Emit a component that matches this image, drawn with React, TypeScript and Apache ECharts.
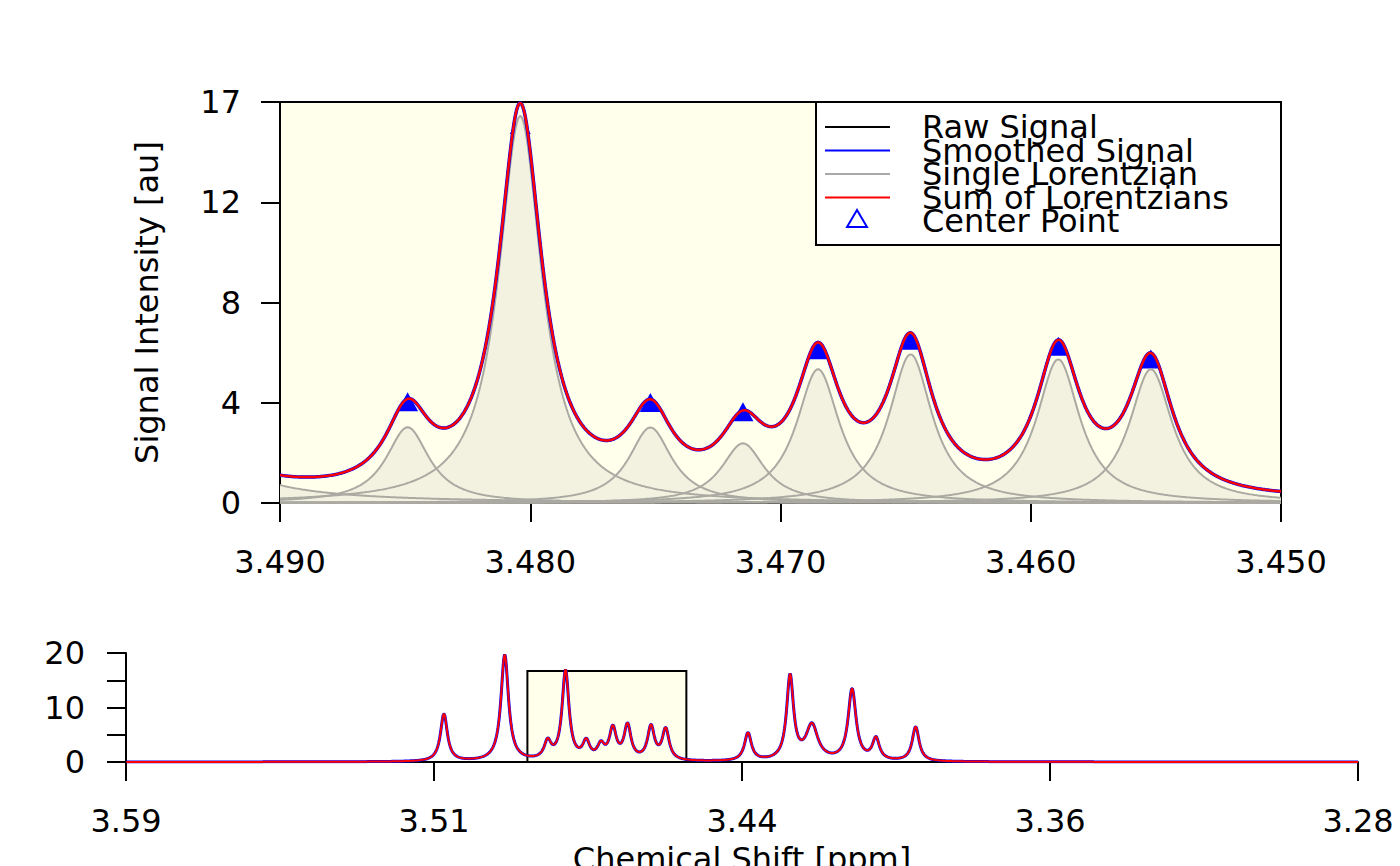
import React, { useEffect, useRef } from "react";
import * as echarts from "echarts";

// fitted Lorentzian peaks: centre [ppm], height [au], half width [ppm]
const peakShift = [3.511, 3.4957, 3.4849, 3.4804, 3.4752, 3.4715, 3.4685, 3.4648, 3.4589, 3.4552, 3.4345, 3.4239, 3.4184, 3.4083, 3.4023, 3.3923];
const peakHeight = [8.7, 19.5, 3.21, 16.4, 3.2, 2.53, 5.67, 6.3, 6.09, 5.67, 5.1, 15.4, 6.4, 13.1, 4.0, 6.3];
const peakWidth = [0.00105, 0.00115, 0.00105, 0.00105, 0.00105, 0.00105, 0.00105, 0.00105, 0.00105, 0.00105, 0.00105, 0.00105, 0.0018, 0.0012, 0.00105, 0.00105];

// centre points marked in the zoomed panel
const centerShift = [3.4849, 3.4804, 3.4752, 3.4715, 3.4685, 3.4648, 3.4589, 3.4552];
const centerIntensity = [4.29, 16.05, 4.26, 3.87, 6.5, 6.9, 6.65, 6.1];

// axes
const zoomRange = [3.45, 3.49];
const zoomTicks = [3.45, 3.46, 3.47, 3.48, 3.49];
const intensityTicks = [0, 4.25, 8.5, 12.75, 17];
const intensityLabels = ["0", "4", "8", "12", "17"];
const overviewRange = [3.281, 3.591];
const overviewTicks = [3.281, 3.3585, 3.436, 3.5135, 3.591];
const overviewLabels = ["3.28", "3.36", "3.44", "3.51", "3.59"];
const overviewYTicks = [0, 5, 10, 15, 20];
const overviewYLabels = [0, 10, 20];

// zoom window drawn in the overview
const zoomWindow = [3.49, 3.45];
const zoomWindowTop = 16.7;

const FONT = "DejaVu Sans";
const FS = 32;

const lorentz = (x: number, i: number) => {
  const d = (x - peakShift[i]) / peakWidth[i];
  return peakHeight[i] / (1 + d * d);
};

const sample = (from: number, to: number, n: number, f: (x: number) => number) => {
  const out: number[][] = [];
  for (let k = 0; k <= n; k++) {
    const x = from + ((to - from) * k) / n;
    out.push([x, f(x)]);
  }
  return out;
};

const sumAt = (x: number) => peakShift.reduce((s, _, i) => s + lorentz(x, i), 0);

const labelFor = (ticks: number[], labels: (string | number)[]) => (v: number) => {
  const i = ticks.findIndex((t) => Math.abs(t - v) < 1e-6);
  return i < 0 ? "" : String(labels[i]);
};

const App: React.FC = () => {
  const chartRef = useRef<HTMLDivElement>(null);

  useEffect(() => {
    if (!chartRef.current) return;
    const chart = echarts.init(chartRef.current, undefined, { renderer: "svg" });

    const zoomSum = sample(zoomRange[0], zoomRange[1], 800, sumAt);
    const overviewSum = sample(overviewRange[0], overviewRange[1], 3100, sumAt);

    // only peaks close enough to the window show up as single curves
    const shown = peakShift.map((_, i) => i).filter((i) => Math.abs(peakShift[i] - 3.47) < 0.03);
    const singles = shown.map((i) => sample(zoomRange[0], zoomRange[1], 800, (x) => lorentz(x, i)));

    const axisLine = { show: true, lineStyle: { color: "#000", width: 2 } };
    const axisTick = (values: number[]) => ({
      show: true,
      length: 19,
      customValues: values,
      lineStyle: { color: "#000", width: 2 },
    });
    const label = { color: "#000", fontSize: FS, fontFamily: FONT };

    const series: any[] = [
      {
        name: "Center Point",
        type: "scatter",
        xAxisIndex: 0,
        yAxisIndex: 0,
        symbol: "triangle",
        symbolSize: [21, 19],
        itemStyle: { color: "#0000FF", opacity: 1 },
        data: centerShift.map((x, i) => [x, centerIntensity[i]]),
        z: 1,
        silent: true,
      },
      ...singles.map((d) => ({
        type: "line",
        xAxisIndex: 0,
        yAxisIndex: 0,
        data: d,
        showSymbol: false,
        symbol: "none",
        lineStyle: { width: 0, opacity: 0 },
        areaStyle: { color: "#F3F2E1", opacity: 1 },
        z: 2,
        silent: true,
      })),
      ...singles.map((d) => ({
        name: "Single Lorentzian",
        type: "line",
        xAxisIndex: 0,
        yAxisIndex: 0,
        data: d,
        showSymbol: false,
        symbol: "none",
        lineStyle: { width: 2, color: "#AAA9A2" },
        z: 3,
        silent: true,
      })),
      {
        name: "Raw Signal",
        type: "line",
        xAxisIndex: 0,
        yAxisIndex: 0,
        data: zoomSum,
        showSymbol: false,
        symbol: "none",
        lineStyle: { width: 2, color: "#000" },
        z: 4,
      },
      {
        name: "Smoothed Signal",
        type: "line",
        xAxisIndex: 0,
        yAxisIndex: 0,
        data: zoomSum,
        showSymbol: false,
        symbol: "none",
        lineStyle: { width: 3.5, color: "#0000FF" },
        z: 5,
      },
      {
        name: "Sum of Lorentzians",
        type: "line",
        xAxisIndex: 0,
        yAxisIndex: 0,
        data: zoomSum,
        showSymbol: false,
        symbol: "none",
        lineStyle: { width: 2.5, color: "#FF0000" },
        z: 6,
      },
      {
        type: "line",
        xAxisIndex: 1,
        yAxisIndex: 1,
        data: [],
        markArea: {
          silent: true,
          itemStyle: { color: "#FFFFEC", borderColor: "#000", borderWidth: 2 },
          data: [[{ xAxis: zoomWindow[0], yAxis: 0 }, { xAxis: zoomWindow[1], yAxis: zoomWindowTop }]],
        },
        z: 1,
      },
      {
        type: "line",
        xAxisIndex: 1,
        yAxisIndex: 1,
        data: overviewSum,
        showSymbol: false,
        symbol: "none",
        lineStyle: { width: 3, color: "#0000FF" },
        z: 2,
      },
      {
        type: "line",
        xAxisIndex: 1,
        yAxisIndex: 1,
        data: overviewSum,
        showSymbol: false,
        symbol: "none",
        lineStyle: { width: 2, color: "#FF0000" },
        z: 3,
      },
    ];

    // legend box, as drawn by R
    const legendRows = [
      { text: "Raw Signal", color: "#000" },
      { text: "Smoothed Signal", color: "#0000FF" },
      { text: "Single Lorentzian", color: "#A9A9A9" },
      { text: "Sum of Lorentzians", color: "#FF0000" },
      { text: "Center Point", color: "" },
    ];
    const rowY = (i: number) => 127 + i * 23.5;
    const legend: any[] = [
      {
        type: "rect",
        shape: { x: 816, y: 102, width: 465, height: 143 },
        style: { fill: "#FFFFFF", stroke: "#000", lineWidth: 2 },
        z: 100,
      },
    ];
    legendRows.forEach((r, i) => {
      if (r.color) {
        legend.push({
          type: "line",
          shape: { x1: 825, y1: rowY(i), x2: 890, y2: rowY(i) },
          style: { stroke: r.color, lineWidth: 2 },
          z: 101,
        });
      } else {
        const cy = rowY(i) - 2;
        legend.push({
          type: "polygon",
          shape: { points: [[857, cy - 9], [867, cy + 8], [847, cy + 8]] },
          style: { fill: "none", stroke: "#0000FF", lineWidth: 2 },
          z: 101,
        });
      }
      legend.push({
        type: "text",
        x: 922,
        y: rowY(i),
        style: { text: r.text, fontSize: FS, fontFamily: FONT, fill: "#000", verticalAlign: "middle" },
        z: 102,
      });
    });

    chart.setOption({
      animation: false,
      backgroundColor: "#FFFFFF",
      textStyle: { fontFamily: FONT },
      grid: [
        {
          left: 280,
          top: 102,
          width: 1001,
          height: 401,
          show: true,
          backgroundColor: "#FFFFEC",
          borderColor: "#000",
          borderWidth: 2,
          outerBoundsMode: "none",
        },
        { left: 126, top: 653, width: 1232, height: 109, show: false, outerBoundsMode: "none" },
      ],
      xAxis: [
        {
          type: "value",
          gridIndex: 0,
          min: zoomRange[0],
          max: zoomRange[1],
          inverse: true,
          position: "bottom",
          axisLine,
          axisTick: axisTick(zoomTicks),
          axisLabel: {
            ...label,
            margin: 43,
            customValues: zoomTicks,
            formatter: (v: number) => v.toFixed(3),
          },
          splitLine: { show: false },
        },
        {
          type: "value",
          gridIndex: 1,
          min: overviewRange[0],
          max: overviewRange[1],
          inverse: true,
          position: "bottom",
          axisLine,
          axisTick: axisTick(overviewTicks),
          axisLabel: {
            ...label,
            margin: 43,
            customValues: overviewTicks,
            formatter: labelFor(overviewTicks, overviewLabels),
          },
          splitLine: { show: false },
          name: "Chemical Shift [ppm]",
          nameLocation: "middle",
          nameGap: 81,
          nameTextStyle: { ...label },
        },
      ],
      yAxis: [
        {
          type: "value",
          gridIndex: 0,
          min: intensityTicks[0],
          max: intensityTicks[intensityTicks.length - 1],
          axisLine,
          axisTick: axisTick(intensityTicks),
          axisLabel: {
            ...label,
            margin: 39,
            customValues: intensityTicks,
            formatter: labelFor(intensityTicks, intensityLabels),
          },
          splitLine: { show: false },
          name: "Signal Intensity [au]",
          nameLocation: "middle",
          nameGap: 117,
          nameTextStyle: { ...label },
        },
        {
          type: "value",
          gridIndex: 1,
          min: overviewYTicks[0],
          max: overviewYTicks[overviewYTicks.length - 1],
          axisLine,
          axisTick: axisTick(overviewYTicks),
          axisLabel: {
            ...label,
            margin: 41,
            customValues: overviewYLabels,
            formatter: (v: number) => String(v),
          },
          splitLine: { show: false },
        },
      ],
      series,
      graphic: legend,
    });

    return () => chart.dispose();
  }, []);

  return (
    <div
      ref={chartRef}
      style={{ position: "fixed", left: 0, top: 0, width: 1400, height: 866 }}
    />
  );
};

export default App;
